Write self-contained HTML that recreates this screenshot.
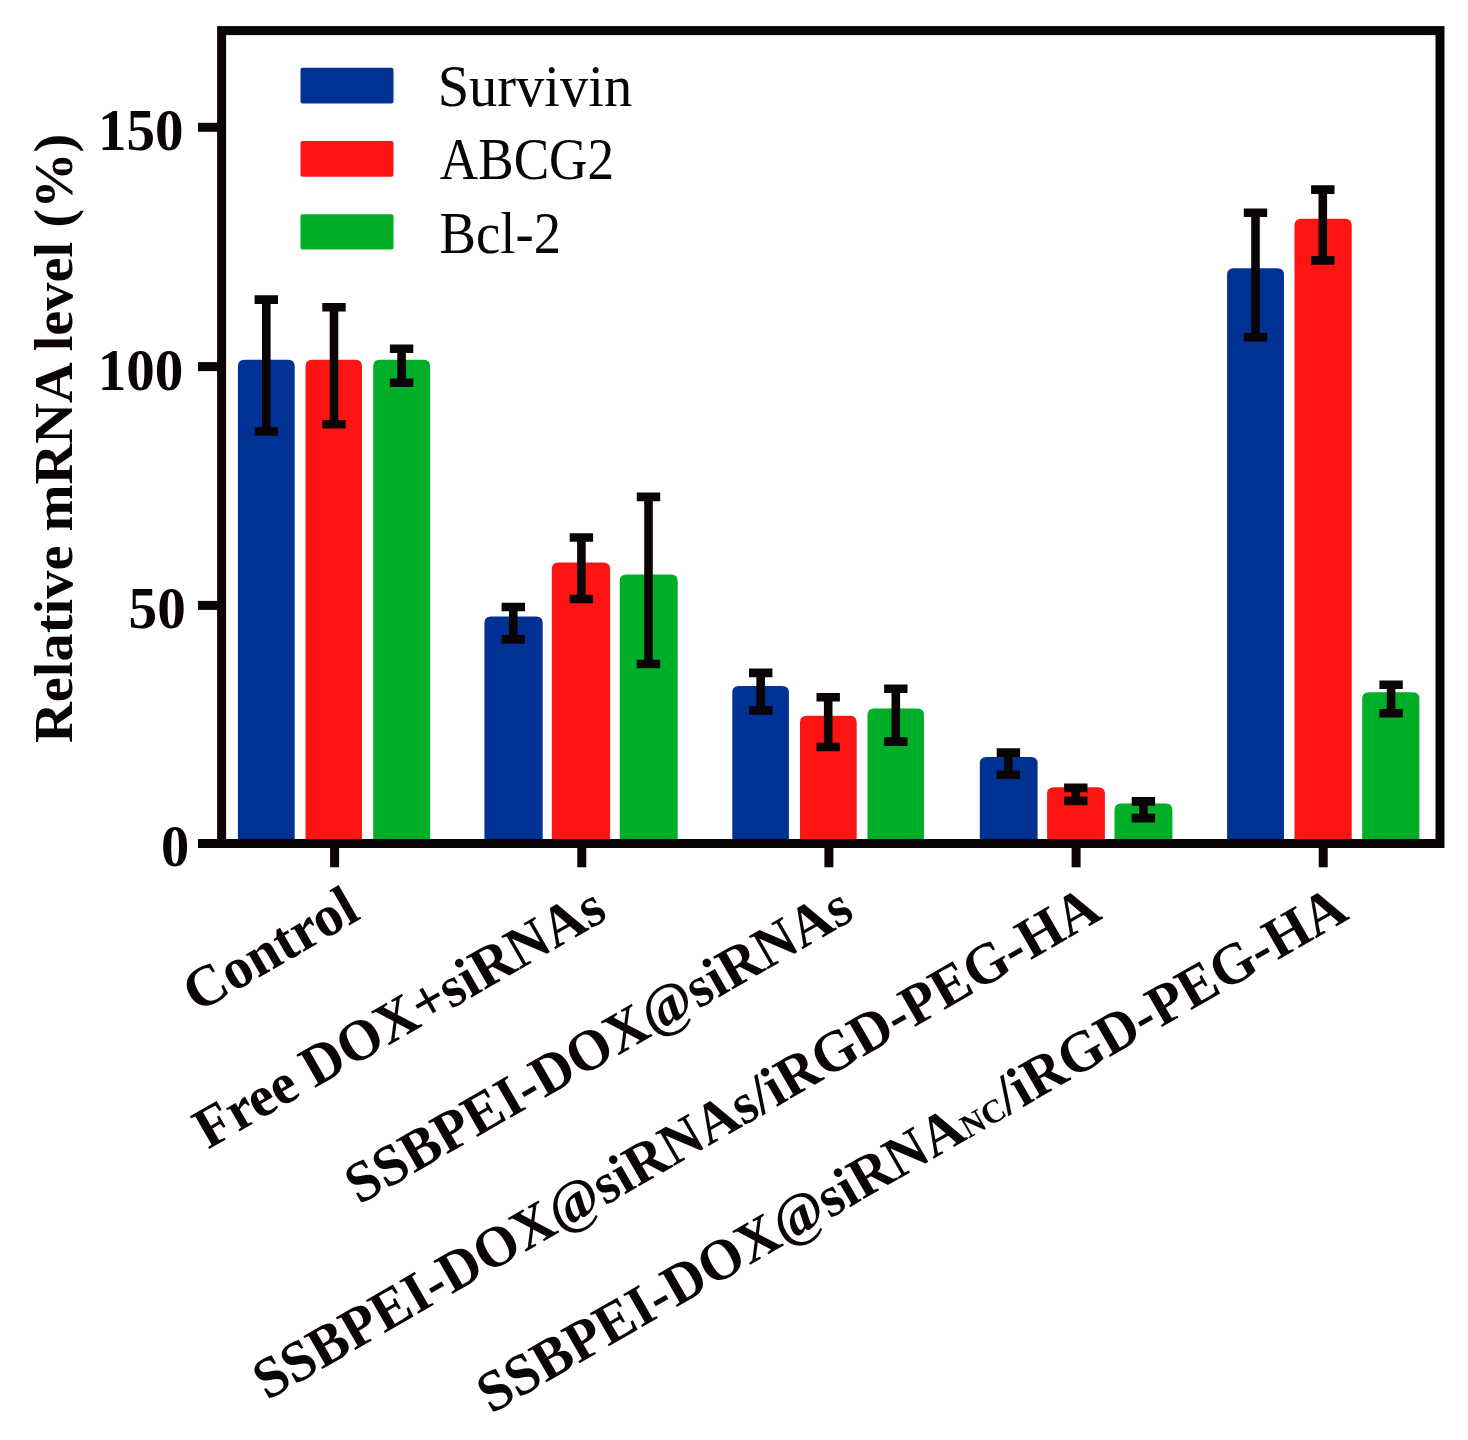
<!DOCTYPE html>
<html lang="en"><head><meta charset="utf-8"><title>Relative mRNA level</title>
<style>html,body{margin:0;padding:0;background:#fff}svg{display:block;filter:blur(0.6px)}text{font-family:"Liberation Serif","Times New Roman",Times,serif;fill:#0a0404}.b{font-weight:700}</style></head><body>
<svg width="1468" height="1440" viewBox="0 0 1468 1440">
<rect width="1468" height="1440" fill="#fff"/>
<path fill="#003296" d="M237.9 843.5V366.3Q237.9 359.8 244.4 359.8H288.2Q294.7 359.8 294.7 366.3V843.5Z"/>
<path fill="#ff1414" d="M305.5 843.5V366.3Q305.5 359.8 312.0 359.8H355.5Q362.0 359.8 362.0 366.3V843.5Z"/>
<path fill="#00ae28" d="M373.2 843.5V366.3Q373.2 359.8 379.7 359.8H423.7Q430.2 359.8 430.2 366.3V843.5Z"/>
<path fill="#003296" d="M484.4 843.5V623.0Q484.4 616.5 490.9 616.5H536.2Q542.7 616.5 542.7 623.0V843.5Z"/>
<path fill="#ff1414" d="M551.8 843.5V569.0Q551.8 562.5 558.3 562.5H603.6Q610.1 562.5 610.1 569.0V843.5Z"/>
<path fill="#00ae28" d="M619.7 843.5V581.1Q619.7 574.6 626.2 574.6H671.2Q677.7 574.6 677.7 581.1V843.5Z"/>
<path fill="#003296" d="M732.3 843.5V692.5Q732.3 686.0 738.8 686.0H782.4Q788.9 686.0 788.9 692.5V843.5Z"/>
<path fill="#ff1414" d="M800.0 843.5V722.3Q800.0 715.8 806.5 715.8H850.2Q856.7 715.8 856.7 722.3V843.5Z"/>
<path fill="#00ae28" d="M867.5 843.5V715.1Q867.5 708.6 874.0 708.6H917.5Q924.0 708.6 924.0 715.1V843.5Z"/>
<path fill="#003296" d="M979.8 843.5V763.5Q979.8 757.0 986.3 757.0H1031.1Q1037.6 757.0 1037.6 763.5V843.5Z"/>
<path fill="#ff1414" d="M1047.1 843.5V793.7Q1047.1 787.2 1053.6 787.2H1098.4Q1104.9 787.2 1104.9 793.7V843.5Z"/>
<path fill="#00ae28" d="M1114.5 843.5V809.9Q1114.5 803.4 1121.0 803.4H1165.9Q1172.4 803.4 1172.4 809.9V843.5Z"/>
<path fill="#003296" d="M1227.1 843.5V274.7Q1227.1 268.2 1233.6 268.2H1277.5Q1284.0 268.2 1284.0 274.7V843.5Z"/>
<path fill="#ff1414" d="M1294.5 843.5V225.2Q1294.5 218.7 1301.0 218.7H1345.2Q1351.7 218.7 1351.7 225.2V843.5Z"/>
<path fill="#00ae28" d="M1362.2 843.5V698.7Q1362.2 692.2 1368.7 692.2H1412.9Q1419.4 692.2 1419.4 698.7V843.5Z"/>
<g fill="none" stroke="#0a0404" stroke-width="9.0">
<rect x="221.6" y="30.6" width="1218.4" height="812.9"/>
<path d="M198 843.5H221.6"/>
<path d="M198 127.3H221.6"/>
<path d="M198 366.6H221.6"/>
<path d="M198 605.4H221.6"/>
<path d="M334.6 843.5V867.3"/>
<path d="M581.8 843.5V867.3"/>
<path d="M828.9 843.5V867.3"/>
<path d="M1076.1 843.5V867.3"/>
<path d="M1323.2 843.5V867.3"/>
</g>
<g fill="none" stroke="#0a0404" stroke-width="8.6">
<path d="M254.6 299.6H278.0M254.6 431.5H278.0M266.3 299.6V431.5"/>
<path d="M322.3 307.3H345.7M322.3 424.2H345.7M334.0 307.3V424.2"/>
<path d="M389.9 348.7H413.3M389.9 382.7H413.3M401.6 348.7V382.7"/>
<path d="M501.6 607.0H525.0M501.6 639.4H525.0M513.3 607.0V639.4"/>
<path d="M569.7 537.5H593.1M569.7 599.0H593.1M581.4 537.5V599.0"/>
<path d="M636.8 496.9H660.2M636.8 664.0H660.2M648.5 496.9V664.0"/>
<path d="M749.0 672.9H772.4M749.0 710.4H772.4M760.7 672.9V710.4"/>
<path d="M816.5 697.3H839.9M816.5 747.0H839.9M828.2 697.3V747.0"/>
<path d="M884.1 688.8H907.5M884.1 741.6H907.5M895.8 688.8V741.6"/>
<path d="M996.7 752.6H1020.1M996.7 774.7H1020.1M1008.4 752.6V774.7"/>
<path d="M1064.1 787.9H1087.5M1064.1 800.9H1087.5M1075.8 787.9V800.9"/>
<path d="M1131.7 801.4H1155.1M1131.7 818.1H1155.1M1143.4 801.4V818.1"/>
<path d="M1243.8 212.7H1267.2M1243.8 337.2H1267.2M1255.5 212.7V337.2"/>
<path d="M1311.1 189.6H1334.5M1311.1 260.4H1334.5M1322.8 189.6V260.4"/>
<path d="M1379.4 684.8H1402.8M1379.4 713.2H1402.8M1391.1 684.8V713.2"/>
</g>
<rect x="300.5" y="67.8" width="93" height="35.6" rx="2" fill="#003296"/>
<rect x="300.5" y="141.1" width="93" height="35.6" rx="2" fill="#ff1414"/>
<rect x="300.5" y="214.2" width="93" height="35.4" rx="2" fill="#00ae28"/>
<text x="437.7" y="106.2" font-size="59" textLength="194.5" lengthAdjust="spacingAndGlyphs">Survivin</text>
<text x="439.8" y="179.2" font-size="59" textLength="174.3" lengthAdjust="spacingAndGlyphs">ABCG2</text>
<text x="439.6" y="252.6" font-size="59" textLength="121.5" lengthAdjust="spacingAndGlyphs">Bcl-2</text>
<text class="b" x="183.6" y="150.3" font-size="60" text-anchor="end" textLength="85.6" lengthAdjust="spacingAndGlyphs">150</text>
<text class="b" x="183.3" y="389.8" font-size="60" text-anchor="end" textLength="85.6" lengthAdjust="spacingAndGlyphs">100</text>
<text class="b" x="185.8" y="628.0" font-size="60" text-anchor="end" textLength="57.2" lengthAdjust="spacingAndGlyphs">50</text>
<text class="b" x="189.3" y="865.5" font-size="60" text-anchor="end" textLength="28.2" lengthAdjust="spacingAndGlyphs">0</text>
<text class="b" transform="translate(71.7 438.3) rotate(-90)" font-size="55" text-anchor="middle" textLength="609.2" lengthAdjust="spacingAndGlyphs">Relative mRNA level (%)</text>
<text class="b" transform="translate(362.1 918) rotate(-30)" font-size="58" text-anchor="end" textLength="190.7" lengthAdjust="spacingAndGlyphs">Control</text>
<text class="b" transform="translate(609.2 918) rotate(-30)" font-size="58" text-anchor="end" textLength="463.3" lengthAdjust="spacingAndGlyphs">Free DOX+siRNAs</text>
<text class="b" transform="translate(856.4 918) rotate(-30)" font-size="58" text-anchor="end" textLength="574.1" lengthAdjust="spacingAndGlyphs">SSBPEI-DOX@siRNAs</text>
<text class="b" transform="translate(1103.6 918) rotate(-30)" font-size="58" text-anchor="end" textLength="965.6" lengthAdjust="spacingAndGlyphs">SSBPEI-DOX@siRNAs/iRGD-PEG-HA</text>
<text class="b" transform="translate(1350.7 918) rotate(-30)" font-size="58" text-anchor="end" textLength="992.5" lengthAdjust="spacingAndGlyphs">SSBPEI-DOX@siRNA<tspan font-size="33">NC</tspan>/iRGD-PEG-HA</text>
</svg></body></html>
